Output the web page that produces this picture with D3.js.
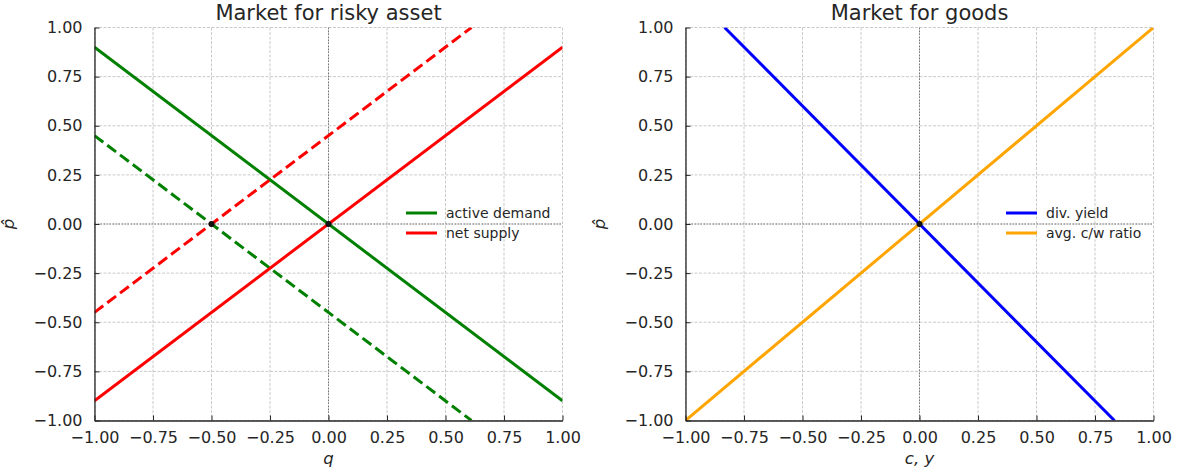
<!DOCTYPE html>
<html><head><meta charset="utf-8">
<script src="https://cdn.jsdelivr.net/npm/d3@7"></script>
<style>body{margin:0;background:#fff}text{font-family:"DejaVu Sans",sans-serif;fill:#262626}</style>
</head><body><svg id="c" width="1180" height="476"></svg>
<script>
const ticks = [-1, -0.75, -0.5, -0.25, 0, 0.25, 0.5, 0.75, 1];
const tickLabels = ["\u22121.00","\u22120.75","\u22120.50","\u22120.25","0.00","0.25","0.50","0.75","1.00"];
// Left panel series
const demandX = [-1, 1], demandY = [0.9, -0.9];
const demandShiftX = [-1, 0.611], demandShiftY = [0.45, -1];
const supplyX = [-1, 1], supplyY = [-0.9, 0.9];
const supplyShiftX = [-1, 0.611], supplyShiftY = [-0.45, 1];
const leftMarkersX = [0, -0.5], leftMarkersY = [0, 0];
// Right panel series
const yieldX = [-0.833, 0.833], yieldY = [1, -1];
const ratioX = [-1, 1], ratioY = [-1, 1];
const rightMarkersX = [0], rightMarkersY = [0];

const svg = d3.select("#c");
function panel(o){
  const g = svg.append("g");
  const x = d3.scaleLinear().domain([-1,1]).range([o.x0,o.x1]);
  const y = d3.scaleLinear().domain([-1,1]).range([o.y1,o.y0]);
  // grid
  g.selectAll(".gx").data(ticks).enter().append("line")
    .attr("x1",d=>x(d)).attr("x2",d=>x(d)).attr("y1",o.y0).attr("y2",o.y1)
    .attr("stroke","#c4c4c4").attr("stroke-width",0.9).attr("stroke-dasharray","3,1.5");
  g.selectAll(".gy").data(ticks).enter().append("line")
    .attr("y1",d=>y(d)).attr("y2",d=>y(d)).attr("x1",o.x0).attr("x2",o.x1)
    .attr("stroke","#c4c4c4").attr("stroke-width",0.9).attr("stroke-dasharray","3,1.5");
  // zero lines
  g.append("line").attr("x1",x(0)).attr("x2",x(0)).attr("y1",o.y0).attr("y2",o.y1)
    .attr("stroke","#777").attr("stroke-width",1).attr("stroke-dasharray","1.5,1.5");
  g.append("line").attr("y1",y(0)).attr("y2",y(0)).attr("x1",o.x0).attr("x2",o.x1)
    .attr("stroke","#777").attr("stroke-width",1).attr("stroke-dasharray","1.5,1.5");
  // series
  const clipId = "clip"+o.id;
  svg.append("clipPath").attr("id",clipId).append("rect")
    .attr("x",o.x0).attr("y",o.y0).attr("width",o.x1-o.x0).attr("height",o.y1-o.y0);
  const line = d3.line().x(d=>x(d[0])).y(d=>y(d[1]));
  o.series.forEach(s=>{
    g.append("path").attr("clip-path",`url(#${clipId})`)
      .attr("d",line(d3.zip(s.xs,s.ys))).attr("fill","none")
      .attr("stroke",s.color).attr("stroke-width",3)
      .attr("stroke-dasharray",s.dash?"11,5":null);
  });
  d3.zip(o.mx,o.my).forEach(p=>{
    g.append("circle").attr("cx",x(p[0])).attr("cy",y(p[1])).attr("r",3)
      .attr("fill","#111");
  });
  // axes
  const ax = d3.axisBottom(x).tickValues(ticks).tickFormat((d,i)=>tickLabels[i]).tickSizeInner(-5).tickSizeOuter(0).tickPadding(11);
  const ay = d3.axisLeft(y).tickValues(ticks).tickFormat((d,i)=>tickLabels[i]).tickSizeInner(-5).tickSizeOuter(0).tickPadding(12);
  const gx = g.append("g").attr("transform",`translate(0,${o.y1})`).call(ax);
  const gy = g.append("g").attr("transform",`translate(${o.x0},0)`).call(ay);
  [gx,gy].forEach(a=>{
    a.select(".domain").attr("stroke","#262626").attr("stroke-width",1.3);
    a.selectAll(".tick line").attr("stroke","#262626");
    a.selectAll("text").attr("font-size",16).attr("fill","#262626").attr("font-family","DejaVu Sans");
  });
  gx.selectAll("text").attr("dy","0.71em");
  // title and labels
  g.append("text").attr("x",(o.x0+o.x1)/2).attr("y",20).attr("text-anchor","middle")
    .attr("font-size",21).text(o.title);
  g.append("text").attr("x",(o.x0+o.x1)/2).attr("y",o.y1+43).attr("text-anchor","middle")
    .attr("font-size",16.5).attr("font-style","italic").text(o.xlabel);
  g.append("text").attr("transform",`translate(${o.x0-81},${(o.y0+o.y1)/2}) rotate(-90)`)
    .attr("text-anchor","middle").attr("font-size",16.5).attr("font-style","italic").text("p\u0302");
  // legend
  o.legend.forEach((l,i)=>{
    const ly = o.ly + i*20;
    g.append("line").attr("x1",o.lx).attr("x2",o.lx+31).attr("y1",ly).attr("y2",ly)
      .attr("stroke",l.color).attr("stroke-width",3);
    g.append("text").attr("x",o.lx+40).attr("y",ly+5).attr("font-size",14).attr("fill","#333").text(l.label);
  });
}
panel({id:"L",x0:94.5,x1:562.5,y0:27.5,y1:420.5,title:"Market for risky asset",xlabel:"q",
  series:[{xs:demandX,ys:demandY,color:"green"},{xs:demandShiftX,ys:demandShiftY,color:"green",dash:true},
          {xs:supplyX,ys:supplyY,color:"red"},{xs:supplyShiftX,ys:supplyShiftY,color:"red",dash:true}],
  mx:leftMarkersX,my:leftMarkersY,lx:406,ly:213,
  legend:[{label:"active demand",color:"green"},{label:"net supply",color:"red"}]});
panel({id:"R",x0:685.5,x1:1153.5,y0:27.5,y1:420.5,title:"Market for goods",xlabel:"c, y",
  series:[{xs:yieldX,ys:yieldY,color:"blue"},{xs:ratioX,ys:ratioY,color:"orange"}],
  mx:rightMarkersX,my:rightMarkersY,lx:1006,ly:213,
  legend:[{label:"div. yield",color:"blue"},{label:"avg. c/w ratio",color:"orange"}]});
</script></body></html>
